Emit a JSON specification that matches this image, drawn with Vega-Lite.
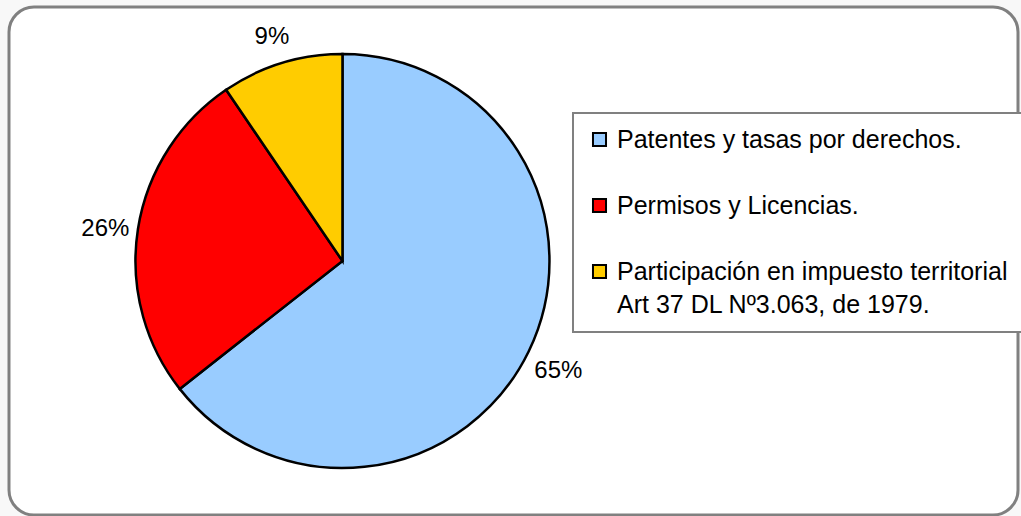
{
  "$schema": "https://vega.github.io/schema/vega-lite/v6.json",
  "width": 1009,
  "height": 508,
  "autosize": {"type": "none"},
  "padding": {"left": 9, "top": 7, "right": 3, "bottom": 1},
  "background": "#f8f8f8",
  "config": {
    "view": {"stroke": "#808080", "strokeWidth": 3, "cornerRadius": 25, "fill": "white"},
    "font": "Liberation Sans"
  },
  "data": {
    "values": [
      {"idx": 1, "category": "Patentes y tasas por derechos.", "value": 64.4, "label": "65%"},
      {"idx": 2, "category": "Permisos y Licencias.", "value": 26.1, "label": "26%"},
      {"idx": 3, "category": "Participación en impuesto territorial|Art 37 DL Nº3.063, de 1979.", "value": 9.5, "label": "9%"}
    ]
  },
  "encoding": {
    "theta": {"field": "value", "type": "quantitative", "stack": true},
    "order": {"field": "idx", "type": "quantitative"},
    "x": {"datum": 0.3305, "type": "quantitative", "scale": {"domain": [0, 1], "nice": false, "zero": false}, "axis": null}
  },
  "layer": [
    {
      "mark": {"type": "arc", "outerRadius": 207, "stroke": "black", "strokeWidth": 2.5},
      "encoding": {
        "color": {
          "field": "category",
          "type": "nominal",
          "scale": {
            "domain": ["Patentes y tasas por derechos.", "Permisos y Licencias.", "Participación en impuesto territorial|Art 37 DL Nº3.063, de 1979."],
            "range": ["#99ccff", "#ff0000", "#ffcc00"]
          },
          "legend": {
            "title": null,
            "orient": "none",
            "legendX": 564,
            "legendY": 106,
            "direction": "vertical",
            "strokeColor": "#808080",
            "fillColor": "white",
            "padding": 14,
            "symbolType": "square",
            "symbolSize": 170,
            "symbolStrokeColor": "black",
            "symbolStrokeWidth": 2,
            "labelFont": "Liberation Sans",
            "labelFontSize": 25,
            "labelColor": "black",
            "labelOffset": 5,
            "labelLimit": 800,
            "rowPadding": 40,
            "labelExpr": "split(datum.label, '|')",
            "encode": {
              "legend": {"update": {"strokeWidth": {"value": 2}}},
              "symbols": {"update": {"stroke": {"value": "black"}, "strokeWidth": {"value": 2}}},
              "labels": {"enter": {"lineHeight": {"value": 33}}, "update": {"lineHeight": {"value": 33}}}
            }
          }
        }
      }
    },
    {
      "mark": {"type": "text", "radius": 240, "dy": 5, "font": "Liberation Sans", "fontSize": 24, "color": "black"},
      "encoding": {
        "text": {"field": "label", "type": "nominal"}
      }
    }
  ]
}
